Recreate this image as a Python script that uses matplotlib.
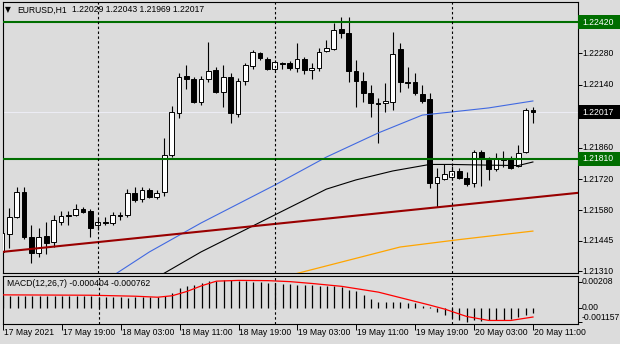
import matplotlib
matplotlib.use('Agg')
import matplotlib.pyplot as plt
import matplotlib.transforms as mtransforms
from matplotlib.patches import Rectangle
import numpy as np

# ---------------- data ----------------
symbol = "EURUSD,H1"
last_ohlc = ["1.22029", "1.22043", "1.21969", "1.22017"]
last_price = 1.22017

opens = [1.21395, 1.21475, 1.21551, 1.21662, 1.21462, 1.21390, 1.21466, 1.21439, 1.21528, 1.21557,
         1.21560, 1.21586, 1.21577, 1.21515, 1.21530, 1.21524, 1.21560, 1.21560, 1.21658, 1.21631,
         1.21671, 1.21640, 1.21662, 1.21827, 1.22014, 1.22179, 1.22166, 1.22063, 1.22166, 1.22206,
         1.22108, 1.22175, 1.22010, 1.22157, 1.22224, 1.22282, 1.22255, 1.22210, 1.22237, 1.22237,
         1.22215, 1.22255, 1.22206, 1.22215, 1.22291, 1.22300, 1.22389, 1.22371, 1.22202, 1.22157,
         1.22103, 1.22059, 1.22059, 1.22063, 1.22300, 1.22152, 1.22152, 1.22099, 1.22077, 1.21702,
         1.21720, 1.21729, 1.21756, 1.21725, 1.21702, 1.21840, 1.21805, 1.21765, 1.21809, 1.21814,
         1.21778, 1.21840, 1.22029]
highs = [1.21493, 1.21591, 1.21684, 1.21684, 1.21515, 1.21502, 1.21528, 1.21560, 1.21577, 1.21577,
         1.21609, 1.21595, 1.21586, 1.21546, 1.21551, 1.21573, 1.21573, 1.21675, 1.21684, 1.21684,
         1.21680, 1.21671, 1.21903, 1.22046, 1.22193, 1.22228, 1.22175, 1.22179, 1.22331, 1.22219,
         1.22228, 1.22193, 1.22170, 1.22237, 1.22295, 1.22286, 1.22264, 1.22251, 1.22242, 1.22246,
         1.22326, 1.22264, 1.22237, 1.22304, 1.22340, 1.22416, 1.22442, 1.22442, 1.22251, 1.22197,
         1.22139, 1.22081, 1.22148, 1.22375, 1.22326, 1.22219, 1.22193, 1.22139, 1.22103, 1.21769,
         1.21787, 1.21778, 1.21769, 1.21751, 1.21849, 1.21849, 1.21818, 1.21836, 1.21845, 1.21823,
         1.21872, 1.22037, 1.22043]
lows = [1.21346, 1.21412, 1.21546, 1.21453, 1.21346, 1.21372, 1.21386, 1.21417, 1.21515, 1.21515,
        1.21555, 1.21568, 1.21462, 1.21493, 1.21515, 1.21515, 1.21537, 1.21551, 1.21618, 1.21618,
        1.21635, 1.21631, 1.21644, 1.21818, 1.21992, 1.22121, 1.22059, 1.22050, 1.22152, 1.22103,
        1.22041, 1.21970, 1.21996, 1.22139, 1.22210, 1.22251, 1.22206, 1.22197, 1.22210, 1.22206,
        1.22197, 1.22188, 1.22166, 1.22202, 1.22286, 1.22295, 1.22349, 1.22152, 1.22041, 1.22063,
        1.21996, 1.21881, 1.22019, 1.22028, 1.22108, 1.22126, 1.22095, 1.22059, 1.21680, 1.21595,
        1.21716, 1.21716, 1.21720, 1.21689, 1.21684, 1.21689, 1.21716, 1.21756, 1.21774, 1.21765,
        1.21774, 1.21836, 1.21969]
closes = [1.21479, 1.21551, 1.21662, 1.21462, 1.21390, 1.21462, 1.21435, 1.21537, 1.21555, 1.21561,
          1.21586, 1.21573, 1.21502, 1.21528, 1.21526, 1.21560, 1.21557, 1.21658, 1.21626, 1.21671,
          1.21640, 1.21658, 1.21827, 1.22019, 1.22175, 1.22166, 1.22063, 1.22166, 1.22202, 1.22108,
          1.22175, 1.22014, 1.22157, 1.22228, 1.22286, 1.22259, 1.22210, 1.22242, 1.22235, 1.22215,
          1.22255, 1.22206, 1.22215, 1.22286, 1.22304, 1.22384, 1.22371, 1.22202, 1.22157, 1.22103,
          1.22059, 1.22055, 1.22068, 1.22277, 1.22152, 1.22150, 1.22103, 1.22068, 1.21702, 1.21729,
          1.21742, 1.21756, 1.21725, 1.21698, 1.21840, 1.21809, 1.21765, 1.21814, 1.21807, 1.21769,
          1.21836, 1.22029, 1.22017]

# moving averages read at sample bars
ma_blue_bars = [15, 20, 27, 37, 44, 51, 57, 61, 66, 72]
ma_blue = [1.21288, 1.21395, 1.21524, 1.21693, 1.21818, 1.21925, 1.22005, 1.22019, 1.22037, 1.22068]
ma_black_bars = [22, 27, 37, 44, 48, 53, 58, 61, 66, 70, 72]
ma_black = [1.21300, 1.21395, 1.21560, 1.21675, 1.21716, 1.21756, 1.21785, 1.21785, 1.21782, 1.21780, 1.21796]
ma_orange_bars = [40, 54, 62, 72]
ma_orange = [1.21299, 1.21417, 1.21450, 1.21488]

resistance = 1.22420
support = 1.21810
trend_bars = [0, 78]
trend_prices = [1.21395, 1.21658]

price_ticks = [1.22280, 1.22140, 1.21860, 1.21720, 1.21580, 1.21445, 1.21310]
price_tick_labels = ["1.22280", "1.22140", "1.21860", "1.21720", "1.21580", "1.21445", "1.21310"]

time_label_bars = [0, 8, 16, 24, 32, 40, 48, 56, 64, 72]
time_labels = ["17 May 2021", "17 May 19:00", "18 May 03:00", "18 May 11:00", "18 May 19:00",
               "19 May 03:00", "19 May 11:00", "19 May 19:00", "20 May 03:00", "20 May 11:00"]
day_separator_bars = [13, 37, 61]

macd_hist = [0.00095, 0.00096, 0.00097, 0.00096, 0.00094, 0.00093, 0.00093, 0.00094, 0.00095, 0.00094,
             0.00094, 0.00093, 0.00091, 0.00089,
             0.00086, 0.00084, 0.00082, 0.00081, 0.00082, 0.00083, 0.00084, 0.00086,
             0.00090, 0.00117, 0.00158, 0.00177, 0.00185, 0.00199, 0.00212, 0.00218, 0.00224, 0.00220,
             0.00218, 0.00212, 0.00210, 0.00204, 0.00199, 0.00197, 0.00193, 0.00187, 0.00184, 0.00179,
             0.00183, 0.00177, 0.00176, 0.00171, 0.00170, 0.00139, 0.00131, 0.00103, 0.00068, 0.00049,
             0.00048, 0.00044, 0.00043, 0.00035, 0.00034, 0.00016, 0.00003,
             -0.00038, -0.00060, -0.00087, -0.00100, -0.00114, -0.00100, -0.00106, -0.00103, -0.00102,
             -0.00100, -0.00095, -0.00073, -0.00060, -0.000404]
signal_bars = [0, 12, 18, 21, 23, 25, 27, 29, 32, 36, 39, 42, 46, 51, 55, 58, 60, 63, 66, 69, 72]
signal = [0.00103, 0.00100, 0.00092, 0.00084, 0.00096, 0.00131, 0.00177, 0.00214, 0.00220, 0.00218,
          0.00210, 0.00195, 0.00172, 0.00125, 0.00065, 0.00020, -0.00012, -0.00072, -0.00104, -0.00104,
          -0.000762]
macd_title = "MACD(12,26,7) -0.000404 -0.000762"
macd_labels = ["0.00208", "0.00", "-0.001157"]
macd_label_vals = [0.00208, 0.0, -0.001157]

# ---------------- figure ----------------
W, H = 620, 344
BG = '#dcdcdc'
GREEN = '#006e00'
FONT = 'Liberation Sans'
FS = 6.2

fig = plt.figure(figsize=(W / 100, H / 100), dpi=100, facecolor=BG)

def fx(px):
    return px / W

def fy(py):
    return 1 - py / H

ax = fig.add_axes([fx(3), fy(273), fx(575), 271 / H], facecolor=BG)
ax2 = fig.add_axes([fx(3), fy(324), fx(575), 48 / H], facecolor=BG)

x0 = 0.15
x1 = x0 + 575 / 7.375
ax.set_xlim(x0, x1)
ax2.set_xlim(x0, x1)
ax.set_ylim(1.213011, 1.225092)
ax2.set_ylim(-0.001327, 0.002556)

for a in (ax, ax2):
    for s in a.spines.values():
        s.set_color('black')
        s.set_linewidth(0.8)
    a.set_xticks([])

# candles
xb = np.arange(len(opens))
o, h, l, c = map(np.array, (opens, highs, lows, closes))
up = c >= o
ax.vlines(xb, l, h, color='black', lw=0.8, zorder=2)
bb = np.minimum(o, c)
bh = np.maximum(np.abs(c - o), 0.000004)
ax.bar(xb[up], bh[up], bottom=bb[up], width=0.64, color='white', edgecolor='black', linewidth=0.7, zorder=3)
ax.bar(xb[~up], bh[~up], bottom=bb[~up], width=0.64, color='black', edgecolor='black', linewidth=0.7, zorder=3)

# bid line
ax.axhline(last_price, color='#ececf4', lw=0.8, zorder=1)

# indicators
ax.plot(ma_blue_bars, ma_blue, color='#4169E1', lw=0.8, zorder=4)
ax.plot(ma_black_bars, ma_black, color='black', lw=0.8, zorder=4)
ax.plot(ma_orange_bars, ma_orange, color='#FFA500', lw=0.9, zorder=4)

# objects
ax.axhline(resistance, color=GREEN, lw=1.5, zorder=5)
ax.axhline(support, color=GREEN, lw=1.5, zorder=5)
ax.plot(trend_bars, trend_prices, color='#990000', lw=1.5, zorder=5)

for b in day_separator_bars:
    for a in (ax, ax2):
        a.axvline(b, color='black', lw=0.8, ls=(0, (2.2, 2.2)), zorder=6)

# price axis
ax.yaxis.tick_right()
ax.set_yticks(price_ticks + [resistance, support, last_price])
ax.tick_params(axis='y', length=3, width=0.7, labelright=False, labelleft=False, color='black')
blend = mtransforms.blended_transform_factory(fig.transFigure, ax.transData)
for p, t in zip(price_ticks, price_tick_labels):
    ax.text(fx(582), p, t, transform=blend, ha='left', va='center', fontsize=FS,
            family=FONT, color='black', clip_on=False)

box_h = 14 / 22432
for p, t, col in [(resistance, "1.22420", GREEN), (support, "1.21810", GREEN), (last_price, "1.22017", 'black')]:
    r = Rectangle((fx(578), p - box_h / 2), fx(42), box_h, transform=blend, facecolor=col,
                  edgecolor='none', clip_on=False, zorder=10)
    fig.add_artist(r)
    fig.text(fx(582), 0, t, transform=blend, ha='left', va='center', fontsize=FS,
             family=FONT, color='white', zorder=11).set_y(p)

# MACD
ax2.vlines(np.arange(len(macd_hist)), 0, macd_hist, color='black', lw=0.9, zorder=2)
ax2.plot(signal_bars, signal, color='#ff0000', lw=0.9, zorder=3)
ax2.yaxis.tick_right()
ax2.set_yticks(macd_label_vals)
ax2.tick_params(axis='y', length=3, width=0.7, labelright=False, labelleft=False)
blend2 = mtransforms.blended_transform_factory(fig.transFigure, ax2.transData)
for v, t, va in zip(macd_label_vals, macd_labels, ['center', 'center', 'bottom']):
    ax2.text(fx(582), v, t, transform=blend2, ha='left', va=va, fontsize=FS,
             family=FONT, color='black', clip_on=False)
ax2.text(fx(7), fy(284), macd_title, transform=fig.transFigure, ha='left', va='center',
         fontsize=FS, family=FONT, color='black')

# time axis
ax2.set_xticks(time_label_bars)
ax2.tick_params(axis='x', length=4, width=0.7, labelbottom=False, direction='out')
blendt = mtransforms.blended_transform_factory(ax2.transData, fig.transFigure)
for b, t in zip(time_label_bars, time_labels):
    ax2.text(b + 0.12, fy(332.5), t, transform=blendt, ha='left', va='center', fontsize=FS,
             family=FONT, color='black', clip_on=False)

# title
fig.text(fx(8), fy(10), '\u25BC', ha='center', va='center', fontsize=5.5, family='DejaVu Sans', color='black')
fig.text(fx(17), fy(10), symbol, ha='left', va='center', fontsize=FS, family=FONT, color='black')
fig.text(fx(71.5), fy(10), ' '.join(last_ohlc), ha='left', va='center', fontsize=FS, family=FONT, color='black')

fig.savefig('out.png', dpi=100, facecolor=BG)
